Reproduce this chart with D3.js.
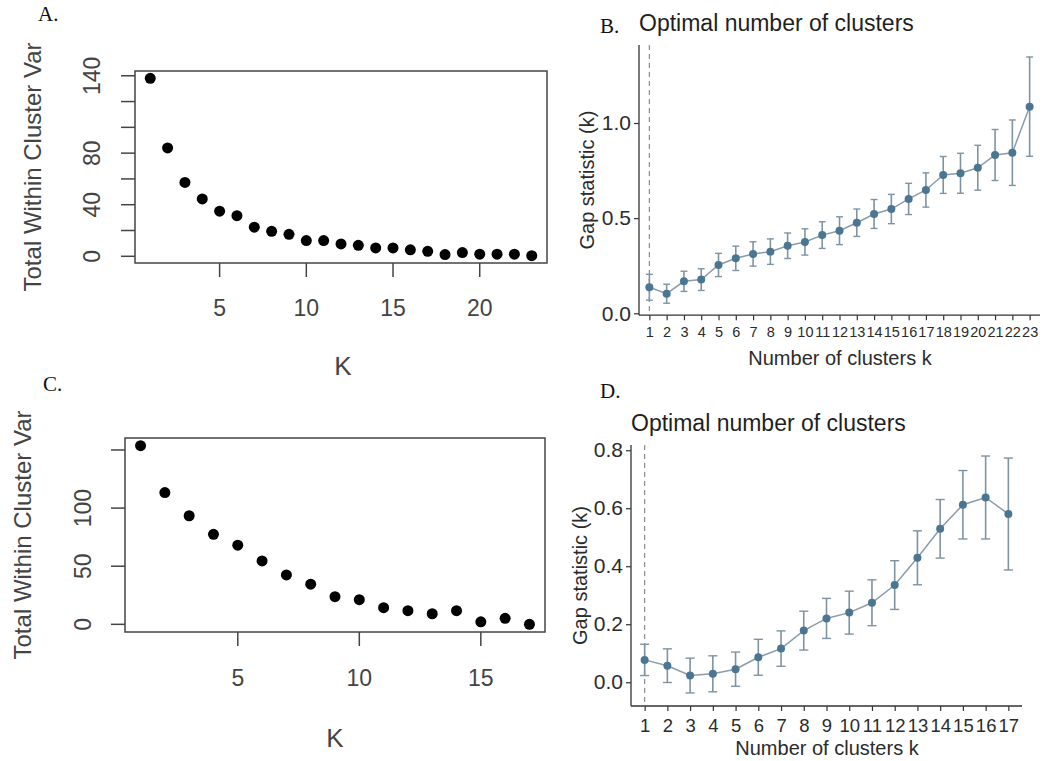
<!DOCTYPE html>
<html>
<head>
<meta charset="utf-8">
<script src="https://cdn.jsdelivr.net/npm/d3@7"></script>
<style>
  html, body { margin: 0; padding: 0; background: #fff; }
  svg { display: block; }
</style>
</head>
<body>
<svg id="chart" width="1047" height="761"></svg>
<script>
// ---------- DATA ----------
const kA = [1,2,3,4,5,6,7,8,9,10,11,12,13,14,15,16,17,18,19,20,21,22,23];
const wssA = [138, 84, 57.3, 44.5, 35, 31.5, 22.6, 19.4, 17, 12.2, 12.2, 9.6, 8.5, 6.5, 6.5, 5, 3.9, 1.3, 2.9, 1.6, 1.6, 1.6, 0.5];
const yTicksA = [0, 20, 40, 60, 80, 100, 120, 140];
const yLabelsA = [0, 40, 80, 140];
const xTicksA = [5, 10, 15, 20];

const kC = [1,2,3,4,5,6,7,8,9,10,11,12,13,14,15,16,17];
const wssC = [153.7, 113.4, 93.4, 77.4, 68.1, 54.5, 42.5, 34.5, 23.8, 21.2, 14.3, 11.7, 9.1, 11.7, 2.2, 5.2, 0];
const yTicksC = [0, 50, 100, 150];
const yLabelsC = [0, 50, 100];
const xTicksC = [5, 10, 15];

const kB = ["1","2","3","4","5","6","7","8","9","10","11","12","13","14","15","16","17","18","19","20","21","22","23"];
const gapB = [0.137,0.103,0.168,0.177,0.254,0.289,0.312,0.324,0.355,0.375,0.411,0.434,0.476,0.522,0.548,0.601,0.648,0.727,0.736,0.765,0.832,0.844,1.086];
const seB = [0.068,0.05,0.053,0.057,0.061,0.064,0.064,0.067,0.067,0.069,0.07,0.073,0.072,0.076,0.077,0.082,0.09,0.097,0.105,0.118,0.134,0.172,0.261];
const yTicksB = [0, 0.5, 1.0];

const kD = ["1","2","3","4","5","6","7","8","9","10","11","12","13","14","15","16","17"];
const gapD = [0.077,0.057,0.023,0.029,0.045,0.086,0.116,0.178,0.22,0.24,0.274,0.335,0.429,0.529,0.612,0.637,0.58];
const seD = [0.054,0.058,0.06,0.062,0.059,0.062,0.061,0.067,0.069,0.074,0.079,0.084,0.093,0.101,0.118,0.143,0.193];
const yTicksD = [0, 0.2, 0.4, 0.6, 0.8];

const optimalB = "1";
const optimalD = "1";

// ---------- DRAW ----------
const svg = d3.select("#chart");
const SANS = "'Liberation Sans', Arial, sans-serif";
const SERIF = "'Liberation Serif', 'Times New Roman', serif";

function panelLabel(txt, x, y) {
  svg.append("text").attr("x", x).attr("y", y).text(txt)
    .attr("font-family", SERIF).attr("font-size", 21).attr("fill", "#111");
}

// Base-R style elbow plot
function elbow(cfg) {
  const { ks, vals, box, xDom, yDom, yTicks, yLabels, xTicks, yLabX, yTitleX, xLabY, xTitleY, xTitleX } = cfg;
  const x = d3.scaleLinear().domain(xDom).range([box.l, box.r]);
  const y = d3.scaleLinear().domain(yDom).range([box.b, box.t]);
  const g = svg.append("g");
  const col = "#444";
  g.append("rect").attr("x", box.l).attr("y", box.t)
    .attr("width", box.r - box.l).attr("height", box.b - box.t)
    .attr("fill", "none").attr("stroke", col).attr("stroke-width", 1.5);
  g.selectAll(".yt").data(yTicks).join("line")
    .attr("x1", box.l - 14).attr("x2", box.l)
    .attr("y1", d => y(d)).attr("y2", d => y(d))
    .attr("stroke", col).attr("stroke-width", 1.5);
  g.selectAll(".yl").data(yLabels).join("text")
    .attr("transform", d => `translate(${yLabX},${y(d)}) rotate(-90)`)
    .attr("text-anchor", "middle").attr("dy", "0.35em")
    .attr("font-family", SANS).attr("font-size", 23).attr("fill", col)
    .text(d => d);
  g.selectAll(".xt").data(xTicks).join("line")
    .attr("x1", d => x(d)).attr("x2", d => x(d))
    .attr("y1", box.b).attr("y2", box.b + 14)
    .attr("stroke", col).attr("stroke-width", 1.5);
  g.selectAll(".xl").data(xTicks).join("text")
    .attr("x", d => x(d)).attr("y", xLabY).attr("dy", "0.35em")
    .attr("text-anchor", "middle")
    .attr("font-family", SANS).attr("font-size", 23).attr("fill", col)
    .text(d => d);
  g.append("text").attr("x", xTitleX).attr("y", xTitleY).attr("dy", "0.35em")
    .attr("text-anchor", "middle").attr("font-family", SANS).attr("font-size", 26)
    .attr("fill", col).text("K");
  g.append("text")
    .attr("transform", `translate(${yTitleX},${(box.t + box.b) / 2}) rotate(-90)`)
    .attr("text-anchor", "middle").attr("dy", "0.35em")
    .attr("font-family", SANS).attr("font-size", 24).attr("fill", col)
    .text("Total Within Cluster Var");
  g.selectAll(".pt").data(ks.map((k, i) => ({ k, v: vals[i] }))).join("circle")
    .attr("cx", d => x(d.k)).attr("cy", d => y(d.v)).attr("r", 5.5).attr("fill", "#000");
}

// ggplot / factoextra style gap statistic plot
function gapPlot(cfg) {
  const { ks, gap, se, left, right, top, bottom, yDom, yTicks, fmt, optimal, titleY, xLabY, xTitleY, xTitleX, xLabSize } = cfg;
  const x = d3.scalePoint().domain(ks).range([left, right]).padding(0.6);
  const y = d3.scaleLinear().domain(yDom).range([bottom, top]);
  const g = svg.append("g");
  const axCol = "#333";
  const txtCol = "#2b2b2b";
  const barCol = "#7f93a0";
  const lineCol = "#8b9ba8";
  const ptCol = "#4a7694";

  g.append("line").attr("x1", x(optimal)).attr("x2", x(optimal))
    .attr("y1", top).attr("y2", bottom)
    .attr("stroke", "#8c8c8c").attr("stroke-width", 1.2).attr("stroke-dasharray", "5,4");

  const data = ks.map((k, i) => ({ k, v: gap[i], s: se[i] }));
  const cap = x.step() * 0.2;
  g.selectAll(".eb").data(data).join("line")
    .attr("x1", d => x(d.k)).attr("x2", d => x(d.k))
    .attr("y1", d => y(d.v - d.s)).attr("y2", d => y(d.v + d.s))
    .attr("stroke", barCol).attr("stroke-width", 1.6);
  g.selectAll(".ct").data(data).join("line")
    .attr("x1", d => x(d.k) - cap).attr("x2", d => x(d.k) + cap)
    .attr("y1", d => y(d.v + d.s)).attr("y2", d => y(d.v + d.s))
    .attr("stroke", barCol).attr("stroke-width", 1.4);
  g.selectAll(".cb").data(data).join("line")
    .attr("x1", d => x(d.k) - cap).attr("x2", d => x(d.k) + cap)
    .attr("y1", d => y(d.v - d.s)).attr("y2", d => y(d.v - d.s))
    .attr("stroke", barCol).attr("stroke-width", 1.4);
  g.append("path").datum(data)
    .attr("d", d3.line().x(d => x(d.k)).y(d => y(d.v)))
    .attr("fill", "none").attr("stroke", lineCol).attr("stroke-width", 1.5);
  g.selectAll(".pt").data(data).join("circle")
    .attr("cx", d => x(d.k)).attr("cy", d => y(d.v)).attr("r", 4)
    .attr("fill", ptCol);

  const yAxis = d3.axisLeft(y).tickValues(yTicks).tickFormat(fmt).tickSizeOuter(0).tickSize(5).tickPadding(3);
  const ya = g.append("g").attr("transform", `translate(${left},0)`).call(yAxis);
  const xAxis = d3.axisBottom(x).tickSizeOuter(0).tickSize(5).tickPadding(2);
  const xa = g.append("g").attr("transform", `translate(0,${bottom})`).call(xAxis);
  [ya, xa].forEach(a => {
    a.select(".domain").attr("stroke", axCol).attr("stroke-width", 1.3);
    a.selectAll(".tick line").attr("stroke", axCol).attr("stroke-width", 1.2);
    a.selectAll(".tick text").attr("font-family", SANS).attr("font-size", 21).attr("fill", txtCol);
  });
  ya.select(".domain").attr("d", `M0,${top}V${bottom}`);
  xa.select(".domain").attr("d", `M${left},0H${right}`);
  xa.selectAll(".tick text")
    .attr("font-size", xLabSize)
    .attr("dy", null)
    .attr("dominant-baseline", "central")
    .attr("y", xLabY - bottom);

  g.append("text").attr("x", left).attr("y", titleY).attr("dy", "0.35em")
    .attr("font-family", SANS).attr("font-size", 23).attr("fill", "#1f1f1f")
    .text("Optimal number of clusters");
  g.append("text").attr("x", xTitleX).attr("y", xTitleY).attr("dy", "0.35em")
    .attr("text-anchor", "middle").attr("font-family", SANS).attr("font-size", 20)
    .attr("fill", txtCol).text("Number of clusters k");
  g.append("text")
    .attr("transform", `translate(${cfg.yTitleX},${(top + bottom) / 2}) rotate(-90)`)
    .attr("text-anchor", "middle").attr("dy", "0.35em")
    .attr("font-family", SANS).attr("font-size", 20).attr("fill", txtCol)
    .text("Gap statistic (k)");
}

elbow({
  ks: kA, vals: wssA,
  box: { l: 135, r: 547, t: 71, b: 263 },
  xDom: [0.12, 23.88], yDom: [-5.2, 143.7],
  yTicks: yTicksA, yLabels: yLabelsA, xTicks: xTicksA,
  yLabX: 92, yTitleX: 33, xLabY: 308, xTitleY: 366, xTitleX: 343
});
elbow({
  ks: kC, vals: wssC,
  box: { l: 125, r: 545, t: 438, b: 632 },
  xDom: [0.36, 17.64], yDom: [-6.6, 160.3],
  yTicks: yTicksC, yLabels: yLabelsC, xTicks: xTicksC,
  yLabX: 83, yTitleX: 23, xLabY: 678, xTitleY: 738, xTitleX: 335
});
gapPlot({
  ks: kB, gap: gapB, se: seB,
  left: 639, right: 1040, top: 45, bottom: 315.2,
  yDom: [-0.01, 1.41], yTicks: yTicksB, fmt: d3.format(".1f"),
  optimal: optimalB, titleY: 23, xLabY: 332, xTitleY: 358, xTitleX: 840, yTitleX: 587,
  xLabSize: 14.5
});
gapPlot({
  ks: kD, gap: gapD, se: seD,
  left: 631, right: 1022, top: 445, bottom: 706,
  yDom: [-0.082, 0.818], yTicks: yTicksD, fmt: d3.format(".1f"),
  optimal: optimalD, titleY: 423, xLabY: 725, xTitleY: 748, xTitleX: 827, yTitleX: 580,
  xLabSize: 18.5
});

panelLabel("A.", 38, 21);
panelLabel("C.", 43, 391);
panelLabel("B.", 600, 33);
panelLabel("D.", 600, 398);
</script>
</body>
</html>
